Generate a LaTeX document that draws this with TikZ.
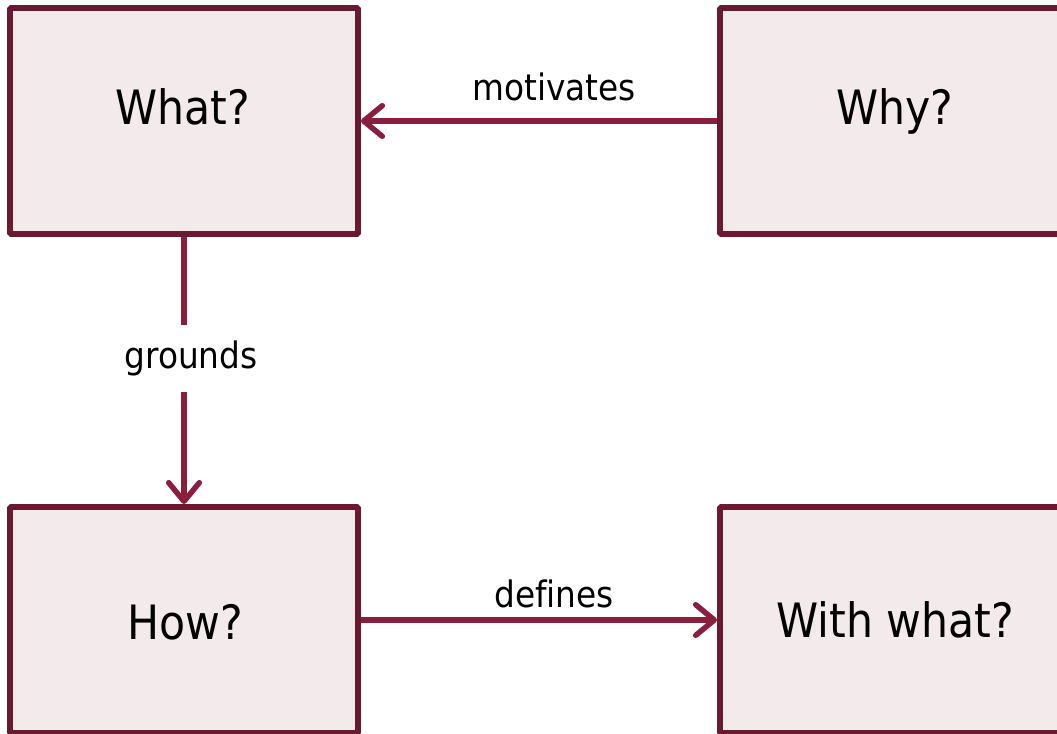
\documentclass[tikz,border=0pt]{standalone}
\usepackage{fontspec}
\setmainfont[Ligatures=NoCommon]{DejaVu Sans Condensed}
\usetikzlibrary{arrows.meta}
\definecolor{boxfill}{HTML}{F3EAEB}
\definecolor{boxline}{HTML}{6A1A30}
\definecolor{arrline}{HTML}{8A1E3E}
\tikzset{
  stagebox/.style={draw=boxline, fill=boxfill, line width=4.4pt, rounded corners=1pt,
    minimum width=261pt, minimum height=169.5pt, inner sep=0pt},
  stagetext/.style={anchor=base, font=\fontsize{35.5pt}{41pt}\selectfont, inner sep=0pt},
  linklabel/.style={font=\fontsize{27.3pt}{32pt}\selectfont, inner sep=0pt},
  link/.style={draw=arrline, line width=4.1pt,
    -{Straight Barb[length=14pt, width=23pt, line cap=round, round]}}
}
\begin{document}
\begin{tikzpicture}[x=0.75pt, y=-0.75pt]
  \useasboundingbox (0,0) rectangle (1057,734);
  \clip (0,0) rectangle (1057,734);

  % the four question boxes
  \node[stagebox] (what) at (184,121) {};
  \node[stagebox] (why) at (894,121) {};
  \node[stagebox] (how) at (184,620) {};
  \node[stagebox] (withwhat) at (894,620) {};

  \node[stagetext] (whatT) at (183,125) {What?};
  \node[stagetext] (whyT) at (895,125) {Why?};
  \node[stagetext] (howT) at (185,639) {How?};
  \node[stagetext] (withwhatT) at (895,637) {With what?};

  % relations between the boxes
  \draw[link] (why) -- (what);
  \draw[link] (how) -- (withwhat);
  \draw[link] (what) -- (how);

  \node[linklabel, anchor=base] (motivates) at (554,101) {motivates};
  \node[linklabel, anchor=base] (defines) at (554,607) {defines};
  \node[linklabel, fill=white, minimum height=50.25pt, inner xsep=4pt] (grounds) at (191,358.5) {grounds};
\end{tikzpicture}
\end{document}
